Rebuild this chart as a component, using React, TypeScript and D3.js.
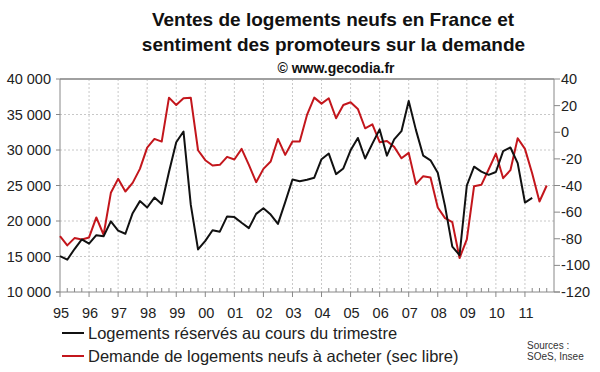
import React from "react"
import * as d3 from "d3"

// quarterly series starting 1995 Q1
const startYear = 1995
const yearLabels = ["95", "96", "97", "98", "99", "00", "01", "02", "03", "04", "05", "06", "07", "08", "09", "10", "11"]

// Logements réservés au cours du trimestre (left axis)
const reserves = [
  15050, 14550, 16050, 17400,
  16800, 18000, 17850, 19950,
  18650, 18200, 21100, 22800,
  21900, 23300, 22400, 26900,
  31100, 32600, 22300, 16000,
  17200, 18700, 18500, 20650,
  20550, 19750, 19000, 21000,
  21800, 20900, 19600, 22650,
  25850, 25600, 25800, 26100,
  28700, 29500, 26600, 27400,
  29950, 31700, 28800, 30900,
  32900, 29200, 31500, 32650,
  36900, 32800, 29200, 28550,
  26800, 22100, 16400, 15200,
  25000, 27650, 26950, 26500,
  26900, 29850, 30350, 28150,
  22600, 23250,
]

// Demande de logements neufs à acheter (right axis, solde d'opinion)
const demande = [
  -78, -85, -79.5, -80.5,
  -79, -64, -77, -45.5,
  -35, -44.5, -38, -27.5,
  -11.5, -5, -7, 26,
  20.5, 25.5, 26, -13.5,
  -21, -25, -24.5, -18.5,
  -20.5, -12.5, -24.5, -37.5,
  -27.5, -22, -5, -17,
  -7, -7, 13, 26,
  21.5, 25.5, 10.5, 20.5,
  22.5, 17.5, 3, 6,
  -7.5, -6.5, -11, -19.5,
  -15.5, -39, -33, -34,
  -56.5, -64.5, -67.5, -94.5,
  -80.5, -40.5, -39.5, -28,
  -16, -34.5, -28.5, -4.5,
  -12.5, -31, -52, -40,
]

const leftTicks = [10000, 15000, 20000, 25000, 30000, 35000, 40000]
const rightTicks = [-120, -100, -80, -60, -40, -20, 0, 20, 40]

const legendItems = [
  { label: "Logements réservés au cours du trimestre", color: "#111111" },
  { label: "Demande de logements neufs à acheter (sec libre)", color: "#c3161c" },
]

const font = "'Liberation Sans', Arial, sans-serif"

export default function App() {
  const width = 600
  const height = 372
  const left = 60
  const right = 554
  const top = 79
  const bottom = 292

  const x = d3.scaleLinear().domain([1995, 2012]).range([left, right])
  const yL = d3.scaleLinear().domain([10000, 40000]).range([bottom, top])
  const yR = d3.scaleLinear().domain([-120, 40]).range([bottom, top])

  const lineL = d3
    .line<number>()
    .x((d, i) => x(startYear + i / 4))
    .y((d) => yL(d))

  const lineR = d3
    .line<number>()
    .x((d, i) => x(startYear + i / 4))
    .y((d) => yR(d))

  const years = d3.range(1995, 2012)
  const quarters = d3.range(1995, 2012, 0.25).filter((q) => q % 1 !== 0)

  const fmt = (v: number) => d3.format(",")(v).replace(",", " ")

  return (
    <svg
      width={width}
      height={height}
      style={{ position: "absolute", left: 0, top: 0, background: "#fff" }}
      fontFamily={font}
    >
      <rect width={width} height={height} fill="#fff" />

      {/* titre */}
      <text x={333} y={26} textAnchor="middle" fontSize={19} fontWeight="bold" fill="#111">
        Ventes de logements neufs en France et
      </text>
      <text x={333.5} y={51} textAnchor="middle" fontSize={19} fontWeight="bold" fill="#111">
        sentiment des promoteurs sur la demande
      </text>
      <text x={336} y={73} textAnchor="middle" fontSize={14} fontWeight="bold" fill="#111">
        © www.gecodia.fr
      </text>

      {/* grille */}
      {leftTicks.slice(1, -1).map((t) => (
        <line key={"h" + t} x1={left} x2={right} y1={yL(t)} y2={yL(t)}
          stroke="#c8c8c8" strokeDasharray="2,2" />
      ))}
      {years.slice(1).map((yr) => (
        <line key={"v" + yr} x1={x(yr)} x2={x(yr)} y1={top} y2={bottom}
          stroke="#c8c8c8" strokeDasharray="2,2" />
      ))}
      <line x1={left} x2={right} y1={top} y2={top} stroke="#a0a0a0" strokeWidth={2} />

      {/* axes */}
      <line x1={left} x2={left} y1={top} y2={bottom} stroke="#888" />
      <line x1={right} x2={right} y1={top} y2={bottom} stroke="#888" />
      <line x1={left - 4} x2={right + 6} y1={bottom} y2={bottom} stroke="#888" />

      {leftTicks.map((t) => (
        <g key={"l" + t}>
          <line x1={left - 4} x2={left} y1={yL(t)} y2={yL(t)} stroke="#888" />
          <text x={51} y={yL(t)} dy="0.35em" textAnchor="end" fontSize={14.5} fill="#222">
            {fmt(t)}
          </text>
        </g>
      ))}
      {rightTicks.map((t) => (
        <g key={"r" + t}>
          <line x1={right} x2={right + 6} y1={yR(t)} y2={yR(t)} stroke="#888" />
          <text x={561} y={yR(t)} dy="0.35em" textAnchor="start" fontSize={14.5} fill="#222">
            {t}
          </text>
        </g>
      ))}
      {quarters.map((q) => (
        <line key={"q" + q} x1={x(q)} x2={x(q)} y1={bottom - 4} y2={bottom} stroke="#888" />
      ))}
      {years.map((yr, i) => (
        <g key={"y" + yr}>
          <line x1={x(yr)} x2={x(yr)} y1={bottom} y2={bottom + 5} stroke="#888" />
          <text x={x(yr) + 1} y={313} dy="0.35em" textAnchor="middle" fontSize={14.5} fill="#222">
            {yearLabels[i]}
          </text>
        </g>
      ))}

      {/* séries */}
      <path d={lineR(demande) || ""} fill="none" stroke="#c3161c" strokeWidth={2} strokeLinejoin="round" />
      <path d={lineL(reserves) || ""} fill="none" stroke="#111" strokeWidth={2} strokeLinejoin="round" />

      {/* légende */}
      {legendItems.map((item, i) => (
        <g key={item.label} transform={`translate(0,${333 + i * 23})`}>
          <line x1={62} x2={84} y1={0} y2={0} stroke={item.color} strokeWidth={2} />
          <text x={88} y={0} dy="0.35em" fontSize={16.5} fill="#222">
            {item.label}
          </text>
        </g>
      ))}

      <text x={527} y={345} dy="0.35em" fontSize={10} fill="#333">Sources :</text>
      <text x={527} y={356} dy="0.35em" fontSize={10} fill="#333">SOeS, Insee</text>
    </svg>
  )
}
